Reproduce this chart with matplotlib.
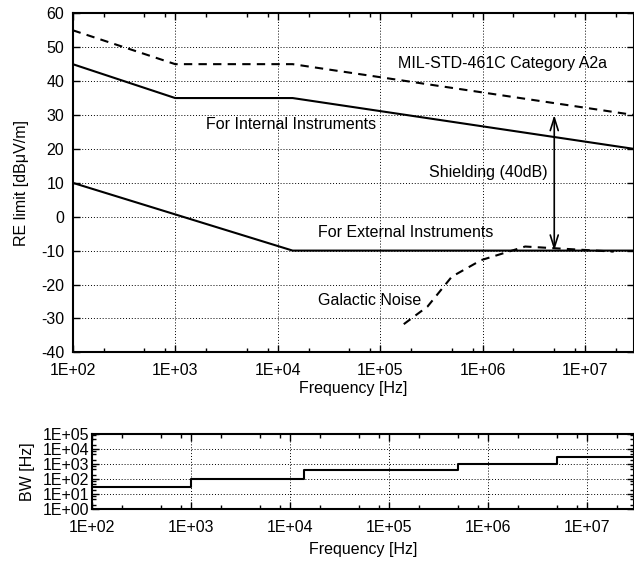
import matplotlib.pyplot as plt
import numpy as np
from matplotlib.ticker import LogLocator, FixedLocator, FuncFormatter, NullFormatter

plt.rcParams['font.family'] = ['Liberation Sans', 'DejaVu Sans']
plt.rcParams['font.size'] = 11.5
plt.rcParams['axes.unicode_minus'] = False

# RE limit curves (frequency Hz, level dBuV/m)
mil_f = [1e2, 1e3, 1.4e4, 3e7]
mil_db = [55, 45, 45, 30]
int_f = [1e2, 1e3, 1.4e4, 3e7]
int_db = [45, 35, 35, 20]
ext_f = [1e2, 1.4e4, 3e7]
ext_db = [10, -10, -10]
gal_f = [1.7e5, 2.9e5, 5.0e5, 9.7e5, 2.6e6, 5.0e6, 1.9e7]
gal_db = [-31.7, -26.5, -17.7, -12.8, -8.8, -9.3, -10.3]

# measurement bandwidth steps
bw_f = [1e2, 1e3, 1.4e4, 5e5, 5e6, 3e7]
bw_hz = [30, 100, 400, 1000, 3000, 3000]

W, H = 634, 562
fig = plt.figure(figsize=(W / 100, H / 100), dpi=100)
ax1 = fig.add_axes([72.7 / W, 1 - 352.3 / H, (634 - 72.7) / W, (352.3 - 13.3) / H])
ax2 = fig.add_axes([91.7 / W, 1 - 509.3 / H, (634 - 91.7) / W, (509.3 - 434) / H])


def sci(v, pos):
    return '1E%+03d' % int(round(np.log10(v)))


for ax in (ax1, ax2):
    ax.set_xscale('log')
    ax.set_xlim(1e2, 3e7)
    ax.xaxis.set_major_locator(LogLocator(base=10, numticks=20))
    ax.xaxis.set_minor_locator(LogLocator(base=10, subs=[2, 5, 8], numticks=20))
    ax.xaxis.set_major_formatter(FuncFormatter(sci))
    ax.xaxis.set_minor_formatter(NullFormatter())
    ax.tick_params(which='both', direction='in', top=True, right=True, width=1)
    ax.tick_params(which='major', length=5)
    ax.tick_params(which='minor', length=3)
    ax.tick_params(axis='x', which='major', pad=8)
    for s in ax.spines.values():
        s.set_linewidth(1.5)
    ax.grid(True, which='major', ls=(0, (1, 2)), color='k', lw=0.7)

lw = 1.5
ax1.plot(mil_f, mil_db, 'k', ls=(0, (4, 3)), lw=lw)
ax1.plot(int_f, int_db, 'k', lw=lw)
ax1.plot(ext_f, ext_db, 'k', lw=lw)
ax1.plot(gal_f, gal_db, 'k', ls=(0, (4, 3)), lw=lw)
ax1.set_ylim(-40, 60)
ax1.set_yticks(np.arange(-40, 61, 10))
ax1.tick_params(axis='y', which='major', pad=6)
ax1.set_ylabel('RE limit [dB\u03bcV/m]', labelpad=9)
ax1.set_xlabel('Frequency [Hz]', labelpad=2)

ax1.annotate('', xy=(5e6, 30), xytext=(5e6, -10),
             arrowprops=dict(arrowstyle='<->,head_length=0.8,head_width=0.25', color='k', lw=1.2,
                             shrinkA=0, shrinkB=0))
ax1.text(1.5e5, 45.3, 'MIL-STD-461C Category A2a', va='center')
ax1.text(2e3, 27.3, 'For Internal Instruments', va='center')
ax1.text(3e5, 13, 'Shielding (40dB)', va='center')
ax1.text(2.5e4, -4.7, 'For External Instruments', va='center')
ax1.text(2.5e4, -24.8, 'Galactic Noise', va='center')

ax2.step(bw_f, bw_hz, 'k', where='post', lw=lw)
ax2.set_yscale('log')
ax2.set_ylim(1, 1e5)
ax2.yaxis.set_major_locator(FixedLocator([1, 1e1, 1e2, 1e3, 1e4, 1e5]))
ax2.yaxis.set_minor_locator(LogLocator(base=10, subs=[2, 5, 8], numticks=20))
ax2.yaxis.set_major_formatter(FuncFormatter(sci))
ax2.yaxis.set_minor_formatter(NullFormatter())
ax2.tick_params(axis='y', which='major', pad=2)
ax2.set_xlabel('Frequency [Hz]', labelpad=5)
ax2.set_ylabel('BW [Hz]', labelpad=5)

fig.savefig('out.png', dpi=100)
